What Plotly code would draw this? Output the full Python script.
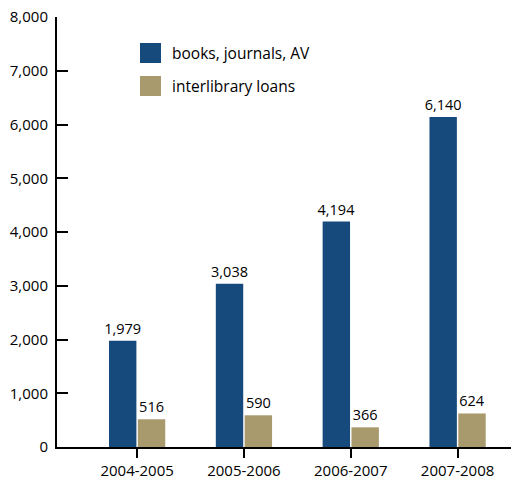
import plotly.graph_objects as go

years = ["2004-2005", "2005-2006", "2006-2007", "2007-2008"]
books = [1979, 3038, 4194, 6140]
loans = [516, 590, 366, 624]
series_names = ["books, journals, AV", "interlibrary loans"]
colors = ["#174a7c", "#a89a6c"]
yticks = [0, 1000, 2000, 3000, 4000, 5000, 6000, 7000, 8000]

FONT = "Open Sans"

fig = go.Figure()
for name, vals, col in zip(series_names, [books, loans], colors):
    fig.add_trace(go.Bar(
        x=years, y=vals, name=name, marker_color=col, marker_line_width=0,
        text=vals, texttemplate="%{y:,}", textposition="outside",
        constraintext="none",
        textfont=dict(family=FONT, size=14.5, color="black"), cliponaxis=False,
        showlegend=False,
    ))

# custom legend
for i, (name, col) in enumerate(zip(series_names, colors)):
    y0 = 1 - (43 - 17 + i * 33) / 430
    fig.add_shape(type="rect", xref="paper", yref="paper",
                  x0=(140 - 57) / 454, x1=(161 - 57) / 454,
                  y0=y0 - 20 / 430, y1=y0, fillcolor=col, line_width=0)
    fig.add_annotation(xref="paper", yref="paper", x=(170 - 57) / 454, y=y0 - 10 / 430,
                       text=name, showarrow=False, xanchor="left", yanchor="middle",
                       font=dict(family=FONT, size=15.5, color="black"))

fig.update_layout(
    width=511, height=479,
    margin=dict(l=57, r=0, t=17, b=32),
    paper_bgcolor="white", plot_bgcolor="white",
    barmode="group", bargap=0.46, bargroupgap=0.05,
    font=dict(family=FONT, size=15, color="black"),
    xaxis=dict(range=[-0.75, 3.5], showline=True, linecolor="black", linewidth=2,
               ticks="outside", ticklen=9, tickwidth=2, tickcolor="black",
               showgrid=False, tickfont=dict(family=FONT, size=15)),
    yaxis=dict(range=[0, 8000], tickvals=yticks, tickformat=",", showline=True,
               linecolor="black", linewidth=2, ticks="inside", ticklen=11,
               tickwidth=2, tickcolor="black", showgrid=False, zeroline=False,
               ticklabelstandoff=4, tickfont=dict(family=FONT, size=15)),
)

fig.write_html("out.html", post_script="document.body.style.margin='0';",
               config={"displayModeBar": False})
